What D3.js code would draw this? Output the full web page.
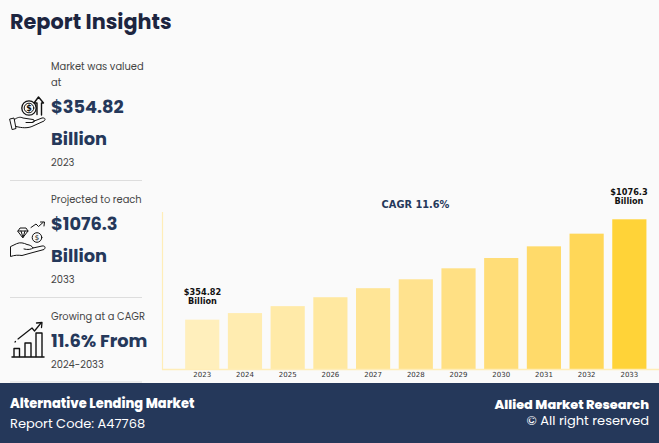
<!DOCTYPE html>
<html><head><meta charset="utf-8">
<script src="https://cdn.jsdelivr.net/npm/d3@7"></script>
<style>html,body{margin:0;padding:0;background:#fafafa;overflow:hidden}svg{display:block}</style>
</head><body><svg id="c" width="659" height="443"></svg>
<script>
const years=["2023","2024","2025","2026","2027","2028","2029","2030","2031","2032","2033"];
const values=[354.82,402,452,516,581,645,724,798,882,973,1076.3];
const barColors=["#FFEFBC","#FFECB0","#FFEAA8","#FFE8A0","#FFE596","#FFE28E","#FFE084","#FFDD78","#FFDA6A","#FFD758","#FFD338"];
const ui="Poppins, Lato, 'Open Sans', sans-serif";
const navy="#25385A";
const svg=d3.select("#c");
svg.append("rect").attr("width",659).attr("height",443).attr("fill","#fafafa");
const txt=(x,y,s,size,weight,fill,font,anchor)=>svg.append("text").attr("x",x).attr("y",y).text(s)
  .attr("font-size",size).attr("font-weight",weight).attr("fill",fill).attr("font-family",font||ui).attr("text-anchor",anchor||"start");

txt(10,28.5,"Report Insights",20.8,700,"#1d2540");

const x=d3.scaleBand().domain(years).range([180.9,650.7]).paddingInner(0.2).paddingOuter(0.1);
const y=d3.scaleLinear().domain([0,1076.3]).range([369,219.3]);
const color=d3.scaleOrdinal().domain(years).range(barColors);
const g=svg.append("g");
g.selectAll("rect").data(years).join("rect")
 .attr("x",d=>x(d)).attr("width",x.bandwidth())
 .attr("y",(d,i)=>y(values[i])).attr("height",(d,i)=>y(0)-y(values[i]))
 .attr("fill",d=>color(d));
const ax=svg.append("g").attr("transform","translate(0,369.5)").call(d3.axisBottom(x).tickSize(0).tickPadding(3));
ax.select(".domain").remove();
ax.selectAll("text").attr("font-size",7).attr("font-family","'DejaVu Sans'").attr("fill","#333");
svg.append("line").attr("x1",162).attr("x2",659).attr("y1",369.5).attr("y2",369.5).attr("stroke","#FFEDB8").attr("stroke-width",1.6);
svg.append("line").attr("x1",162.5).attr("x2",162.5).attr("y1",212).attr("y2",370).attr("stroke","#FFEDB8").attr("stroke-width",1.2);

const df="'DejaVu Sans'";
txt(202.5,295,"$354.82",8.2,700,"#111",df,"middle");
txt(202.5,304,"Billion",8.2,700,"#111",df,"middle");
txt(629,194.5,"$1076.3",8.2,700,"#111",df,"middle");
txt(629,204,"Billion",8.2,700,"#111",df,"middle");
txt(415.5,208,"CAGR 11.6%",9.8,700,navy,df,"middle");

const grey="#444";
const small=9.9, big=17.8;
txt(51,70,"Market was valued",small,400,grey);
txt(51,86,"at",small,400,grey);
txt(51,113,"$354.82",big,700,navy);
txt(51,145,"Billion",big,700,navy);
txt(51,166,"2023",small,400,grey);
txt(51,203,"Projected to reach",small,400,grey);
txt(51,230,"$1076.3",big,700,navy);
txt(51,262,"Billion",big,700,navy);
txt(51,283,"2033",small,400,grey);
txt(51,320,"Growing at a CAGR",small,400,grey);
txt(51,347,"11.6% From",big,700,navy);
txt(51,368,"2024-2033",small,400,grey);
[180.5,297.5,382].forEach(v=>svg.append("line").attr("x1",10).attr("x2",142).attr("y1",v).attr("y2",v).attr("stroke","#ddd"));

// icons
const ic=svg.append("g").attr("fill","none").attr("stroke","#111").attr("stroke-width",1).attr("stroke-linejoin","round").attr("stroke-linecap","round");
ic.append("path").attr("d","M10,119 L14,118 L16,128.5 L12.5,129.5 Z M14.5,119.5 C17,117.5 20,116.5 23,118 L33,119.5 C35,120 35,122.5 32,122.5 L26,122.5 M33,121.5 L42,118 C45,117.5 46,119.5 44,121 L33,126 C28,128.5 22,128 16,126.5");
ic.append("circle").attr("cx",29).attr("cy",108).attr("r",7.2).attr("stroke-width",1.3);
ic.append("circle").attr("cx",29).attr("cy",108).attr("r",4.8);
svg.append("text").attr("x",29).attr("y",111).attr("text-anchor","middle").attr("font-size",8).attr("font-weight",700).attr("fill","#111").attr("font-family",df).text("$");
ic.append("path").attr("d","M37,114.5 L37,103 L34,103 L38.5,97 L43.5,103 L41.5,103 L41.5,115").attr("stroke-width",1.4);

ic.append("path").attr("d","M10.5,247 L10.5,256.5 C15,255 18,255 22,255.5 L31,253 L44,249.5 C46,247.5 45,245.5 42,246 L33,248 C32,246 30,245 27,244.5 C24,243 20,242 17,243.5 Z M33,248 C31,249.5 28,250 24,249");
ic.append("path").attr("d","M18,231 L20,228 L26,228 L28,231 L23,237.5 Z M18,231 L28,231 M21,231 L23,237.5 L25,231");
ic.append("circle").attr("cx",37).attr("cy",237.5).attr("r",4.8);
svg.append("text").attr("x",37).attr("y",240.2).attr("text-anchor","middle").attr("font-size",7).attr("fill","#111").attr("font-family",df).text("$");
ic.append("path").attr("d","M31,227.5 L36,224 L38.5,226.5 L43,222.5");
ic.append("path").attr("d","M40.5,222 L44.5,222 L44,226");

ic.append("path").attr("d","M12,357 L44,357").attr("stroke-width",1.5);
ic.append("path").attr("d","M14,356.5 V348.5 H19.5 V356.5 M25,356.5 V343 H31 V356.5 M36,356.5 V333 H42 V356.5").attr("stroke-width",1.4);
ic.append("path").attr("d","M18,339 L32,328 L34.5,331 L41,323").attr("stroke-width",1.2);
ic.append("path").attr("d","M15,342 L15.5,341.5").attr("stroke-width",1.2);
ic.append("path").attr("d","M36.5,323 L42,322.5 L41.5,327.5").attr("stroke-width",1.3);

// footer
svg.append("rect").attr("y",383).attr("width",659).attr("height",60).attr("fill",navy);
txt(10,408,"Alternative Lending Market",13,800,"#fff");
txt(10,428,"Report Code: A47768",13,400,"#fff");
txt(649,409,"Allied Market Research",12.9,800,"#fff",null,"end");
txt(649,425,"© All right reserved",13,400,"#fff",null,"end");
</script></body></html>
